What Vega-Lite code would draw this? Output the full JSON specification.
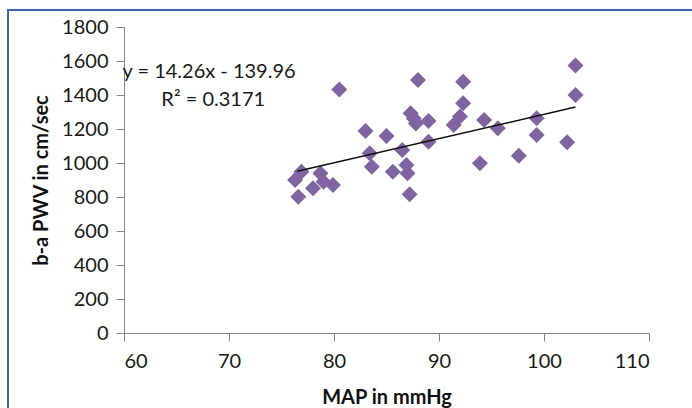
{
  "$schema": "https://vega.github.io/schema/vega-lite/v6.json",
  "width": 700,
  "height": 420,
  "autosize": {"type": "none"},
  "padding": {"left": 8, "top": 10, "right": 0, "bottom": 0},
  "background": "white",
  "config": {
    "view": {"stroke": "#3f63b5", "strokeWidth": 2},
    "font": "Lato",
    "axis": {
      "grid": false,
      "domainColor": "#868686",
      "tickColor": "#868686",
      "tickSize": 8,
      "labelFont": "Lato",
      "labelFontSize": 20,
      "labelColor": "#1a1a1a",
      "titleFont": "Lato",
      "titleFontSize": 20,
      "titleFontWeight": "bold",
      "titleColor": "#111111"
    }
  },
  "datasets": {
    "points": [
      {"map": 76.6, "pwv": 802}, {"map": 76.3, "pwv": 900}, {"map": 76.9, "pwv": 949},
      {"map": 78.0, "pwv": 851}, {"map": 78.7, "pwv": 939}, {"map": 79.0, "pwv": 890},
      {"map": 79.9, "pwv": 870}, {"map": 80.5, "pwv": 1433}, {"map": 83.0, "pwv": 1188},
      {"map": 85.0, "pwv": 1159}, {"map": 83.4, "pwv": 1057}, {"map": 83.6, "pwv": 978},
      {"map": 85.6, "pwv": 949}, {"map": 86.5, "pwv": 1076}, {"map": 86.9, "pwv": 988},
      {"map": 87.0, "pwv": 939}, {"map": 87.2, "pwv": 816}, {"map": 87.3, "pwv": 1292},
      {"map": 87.6, "pwv": 1262}, {"map": 87.8, "pwv": 1233}, {"map": 88.0, "pwv": 1488},
      {"map": 89.0, "pwv": 1247}, {"map": 89.0, "pwv": 1125}, {"map": 91.4, "pwv": 1224},
      {"map": 92.0, "pwv": 1273}, {"map": 92.3, "pwv": 1351}, {"map": 92.3, "pwv": 1478},
      {"map": 93.9, "pwv": 998}, {"map": 94.3, "pwv": 1253}, {"map": 95.6, "pwv": 1204},
      {"map": 97.6, "pwv": 1043}, {"map": 99.3, "pwv": 1263}, {"map": 99.3, "pwv": 1165},
      {"map": 102.2, "pwv": 1122}, {"map": 103.0, "pwv": 1573}, {"map": 103.0, "pwv": 1400}
    ],
    "trend": [
      {"map": 76.5, "pwv": 951},
      {"map": 103.0, "pwv": 1329}
    ],
    "notes": [
      {"map": 68.1, "pwv": 1535, "label": "y = 14.26x - 139.96"},
      {"map": 68.5, "pwv": 1371, "label": "R² = 0.3171"}
    ]
  },
  "encoding": {
    "x": {
      "field": "map",
      "type": "quantitative",
      "scale": {"domain": [60, 110], "range": [116, 641], "nice": false, "zero": false},
      "axis": {
        "title": "MAP in mmHg",
        "values": [60, 70, 80, 90, 100, 110],
        "format": "d",
        "offset": -97,
        "labelPadding": 10,
        "titlePadding": 16
      }
    },
    "y": {
      "field": "pwv",
      "type": "quantitative",
      "scale": {"domain": [0, 1800], "range": [323, 17], "nice": false},
      "axis": {
        "title": "b-a PWV in cm/sec",
        "values": [0, 200, 400, 600, 800, 1000, 1200, 1400, 1600, 1800],
        "format": "d",
        "offset": -116,
        "labelPadding": 8,
        "titlePadding": 10
      }
    }
  },
  "layer": [
    {
      "data": {"name": "points"},
      "mark": {"type": "point", "shape": "diamond", "filled": true, "size": 256, "color": "#8064A2", "opacity": 1}
    },
    {
      "data": {"name": "trend"},
      "mark": {"type": "line", "color": "#111111", "strokeWidth": 1.5}
    },
    {
      "data": {"name": "notes"},
      "mark": {"type": "text", "font": "Lato", "fontSize": 20, "color": "#1a1a1a", "align": "center", "baseline": "middle"},
      "encoding": {"text": {"field": "label"}}
    }
  ]
}
